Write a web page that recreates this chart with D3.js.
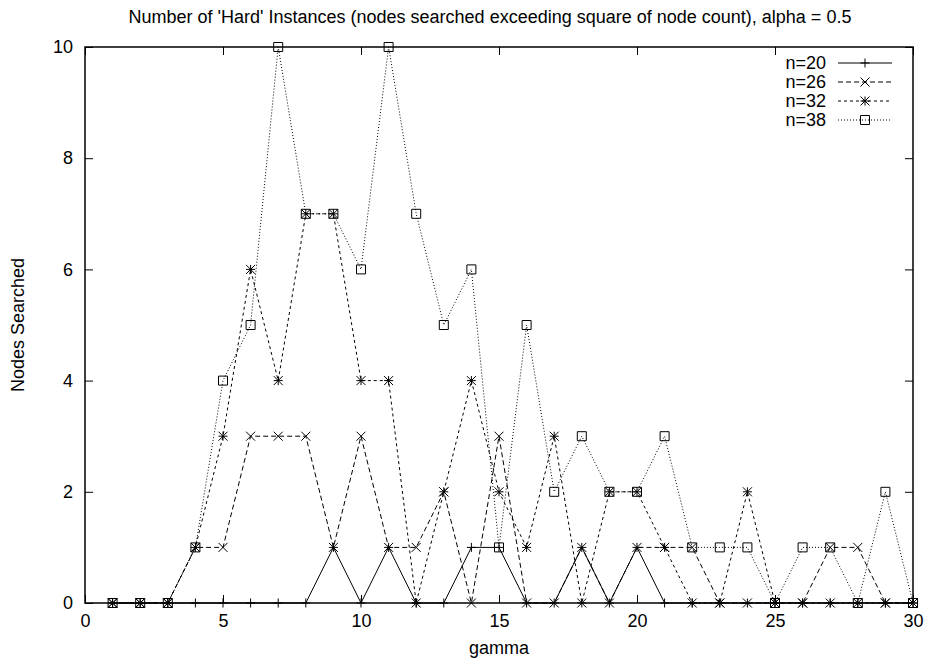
<!DOCTYPE html>
<html>
<head>
<meta charset="utf-8">
<script src="https://cdn.jsdelivr.net/npm/d3@7"></script>
<style>
  body { margin: 0; background: #fff; }
  text { font-family: "Liberation Sans", Arial, Helvetica, sans-serif; fill: #000; }
</style>
</head>
<body>
<svg id="chart" width="928" height="663"></svg>
<script>
// gamma values on the x axis
const gammaValues = [1,2,3,4,5,6,7,8,9,10,11,12,13,14,15,16,17,18,19,20,21,22,23,24,25,26,27,28,29,30];

// number of hard instances per graph size
const n20 = [0,0,0,0,0,0,0,0,1,0,1,0,0,1,1,0,0,1,0,1,0,0,0,0,0,0,0,0,0,0];
const n26 = [0,0,0,1,1,3,3,3,1,3,1,1,2,0,3,0,0,1,0,1,1,1,0,0,0,0,1,1,0,0];
const n32 = [0,0,0,1,3,6,4,7,7,4,4,0,2,4,2,1,3,0,2,2,1,0,0,2,0,0,0,0,0,0];
const n38 = [0,0,0,1,4,5,10,7,7,6,10,7,5,6,1,5,2,3,2,2,3,1,1,1,0,1,1,0,2,0];

const seriesNames = ["n=20", "n=26", "n=32", "n=38"];
const xTickValues = [0,5,10,15,20,25,30];
const yTickValues = [0,2,4,6,8,10];

const titleText = "Number of 'Hard' Instances (nodes searched exceeding square of node count), alpha = 0.5";
const xLabel = "gamma";
const yLabel = "Nodes Searched";

const series = [
  { name: seriesNames[0], values: n20, dash: null,    marker: "plus" },
  { name: seriesNames[1], values: n26, dash: "5,3",   marker: "cross" },
  { name: seriesNames[2], values: n32, dash: "3,3",   marker: "star" },
  { name: seriesNames[3], values: n38, dash: "1,2",   marker: "box" }
];

const svg = d3.select("#chart");
const margin = { left: 85, right: 15, top: 47, bottom: 60 };
const W = 928, H = 663;

const x = d3.scaleLinear().domain([0, 30]).range([margin.left, W - margin.right]);
const y = d3.scaleLinear().domain([0, 10]).range([H - margin.bottom, margin.top]);

const fontSize = 18;

// title
svg.append("text")
  .attr("x", 490).attr("y", 23)
  .attr("text-anchor", "middle")
  .style("font-size", fontSize + "px")
  .text(titleText);

// axes with inward ticks on all four sides
const tickLen = 8;
svg.append("g")
  .attr("transform", `translate(0,${y(0)})`)
  .call(d3.axisBottom(x).tickValues(xTickValues).tickSize(-tickLen).tickPadding(11).tickFormat(d3.format("d")))
  .call(g => g.select(".domain").remove())
  .call(g => g.selectAll("text").style("font-size", fontSize + "px").attr("font-family", null));

svg.append("g")
  .attr("transform", `translate(0,${y(10)})`)
  .call(d3.axisTop(x).tickValues(xTickValues).tickSize(-tickLen).tickFormat(""))
  .call(g => g.select(".domain").remove());

svg.append("g")
  .attr("transform", `translate(${x(0)},0)`)
  .call(d3.axisLeft(y).tickValues(yTickValues).tickSize(-tickLen).tickPadding(12).tickFormat(d3.format("d")))
  .call(g => g.select(".domain").remove())
  .call(g => g.selectAll("text").style("font-size", fontSize + "px").attr("font-family", null));

svg.append("g")
  .attr("transform", `translate(${x(30)},0)`)
  .call(d3.axisRight(y).tickValues(yTickValues).tickSize(-tickLen).tickFormat(""))
  .call(g => g.select(".domain").remove());

svg.selectAll(".tick line").attr("stroke", "#000").attr("stroke-width", 1);

// frame
svg.append("rect")
  .attr("x", x(0)).attr("y", y(10))
  .attr("width", x(30) - x(0)).attr("height", y(0) - y(10))
  .attr("fill", "none").attr("stroke", "#000").attr("stroke-width", 1.5);

// axis labels
svg.append("text")
  .attr("x", (x(0) + x(30)) / 2).attr("y", 654)
  .attr("text-anchor", "middle")
  .style("font-size", fontSize + "px")
  .text(xLabel);

svg.append("text")
  .attr("transform", `translate(24,${(y(0) + y(10)) / 2}) rotate(-90)`)
  .attr("text-anchor", "middle")
  .style("font-size", fontSize + "px")
  .text(yLabel);

// marker drawing
const ms = 4.5;
function drawMarker(g, kind, cx, cy) {
  const p = d3.path();
  if (kind === "plus" || kind === "star") {
    p.moveTo(cx - ms, cy); p.lineTo(cx + ms, cy);
    p.moveTo(cx, cy - ms); p.lineTo(cx, cy + ms);
  }
  if (kind === "cross" || kind === "star") {
    p.moveTo(cx - ms, cy - ms); p.lineTo(cx + ms, cy + ms);
    p.moveTo(cx - ms, cy + ms); p.lineTo(cx + ms, cy - ms);
  }
  if (kind === "box") {
    p.rect(cx - ms, cy - ms, 2 * ms, 2 * ms);
  }
  g.append("path").attr("d", p.toString())
    .attr("fill", "none").attr("stroke", "#000").attr("stroke-width", 1);
}

const line = d3.line().x(d => x(d[0])).y(d => y(d[1]));

const plot = svg.append("g");
series.forEach(s => {
  const pts = gammaValues.map((gv, i) => [gv, s.values[i]]);
  plot.append("path")
    .datum(pts)
    .attr("d", line)
    .attr("fill", "none")
    .attr("stroke", "#000")
    .attr("stroke-width", 1)
    .attr("stroke-dasharray", s.dash);
  const mg = plot.append("g");
  pts.forEach(p => drawMarker(mg, s.marker, x(p[0]), y(p[1])));
});

// legend
const legend = svg.append("g");
const legX = 826, legY0 = 63, legDy = 19, sampleX1 = 838, sampleX2 = 892;
series.forEach((s, i) => {
  const ly = legY0 + i * legDy;
  legend.append("text")
    .attr("x", legX).attr("y", ly)
    .attr("dy", "0.35em")
    .attr("text-anchor", "end")
    .style("font-size", fontSize + "px")
    .text(s.name);
  legend.append("line")
    .attr("x1", sampleX1).attr("x2", sampleX2)
    .attr("y1", ly).attr("y2", ly)
    .attr("stroke", "#000").attr("stroke-width", 1)
    .attr("stroke-dasharray", s.dash);
  drawMarker(legend, s.marker, (sampleX1 + sampleX2) / 2, ly);
});
</script>
</body>
</html>
